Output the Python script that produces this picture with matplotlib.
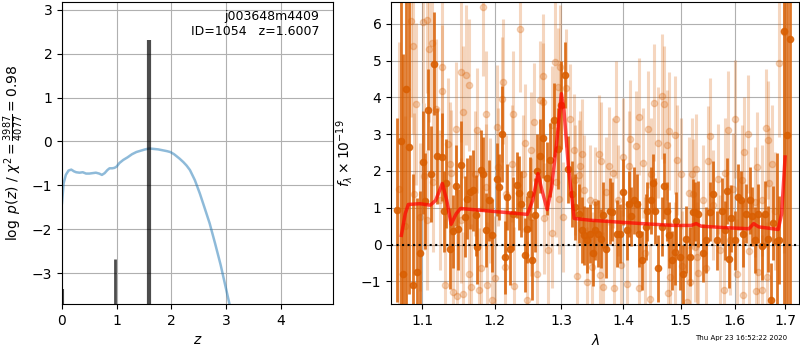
import matplotlib
matplotlib.use('Agg')
import matplotlib.pyplot as plt
from matplotlib.ticker import FixedLocator, FixedFormatter, NullLocator, NullFormatter

# ---- left panel: redshift fit ----
z_chi = [0.0, 0.03, 0.07, 0.12, 0.17, 0.22, 0.26, 0.32, 0.38, 0.44, 0.50,
         0.56, 0.62, 0.68, 0.73, 0.78, 0.83, 0.87, 0.92, 0.96, 1.00, 1.05,
         1.12, 1.20, 1.28, 1.36, 1.44, 1.52, 1.60, 1.68, 1.76, 1.84, 1.92,
         1.98, 2.05, 2.15, 2.22, 2.28, 2.34, 2.43, 2.52, 2.60, 2.70, 2.80,
         2.90, 3.00, 3.10, 3.20]
logp_chi = [-1.40, -0.95, -0.76, -0.66, -0.64, -0.68, -0.70, -0.71, -0.70,
            -0.73, -0.73, -0.72, -0.71, -0.73, -0.76, -0.72, -0.65, -0.61,
            -0.61, -0.60, -0.57, -0.49, -0.42, -0.36, -0.29, -0.24, -0.21,
            -0.18, -0.16, -0.17, -0.18, -0.20, -0.22, -0.24, -0.29, -0.39,
            -0.47, -0.55, -0.65, -0.88, -1.18, -1.48, -1.86, -2.32, -2.80,
            -3.35, -3.90, -4.50]

z_peak = [0.015, 0.975, 1.600]
logp_peak = [-3.35, -2.68, 2.30]
peak_width = [1.5, 2.0, 3.0]

# ---- right panel: spectrum ----
# dark points (wave [micron], flux, err)
wave_a = [1.067, 1.073, 1.075, 1.079, 1.083, 1.088, 1.093, 1.097, 1.101, 1.104,
          1.108, 1.112, 1.116, 1.120, 1.126, 1.129, 1.132, 1.137, 1.141, 1.146,
          1.148, 1.153, 1.158, 1.161, 1.165, 1.169, 1.173, 1.175, 1.180, 1.184,
          1.188, 1.192, 1.196, 1.204, 1.206, 1.211, 1.215, 1.218, 1.222, 1.227,
          1.232, 1.236, 1.239, 1.244, 1.248, 1.252, 1.255, 1.259, 1.263, 1.267,
          1.272, 1.277, 1.283, 1.289, 1.295, 1.300, 1.306, 1.311, 1.316, 1.321,
          1.327, 1.332, 1.336, 1.341, 1.345, 1.350, 1.353, 1.359, 1.364, 1.367,
          1.372, 1.378, 1.382, 1.389, 1.394, 1.400, 1.406, 1.410, 1.414, 1.418,
          1.423, 1.427, 1.432, 1.438, 1.441, 1.447, 1.451, 1.455, 1.460, 1.466,
          1.470, 1.475, 1.479, 1.484, 1.490, 1.492, 1.499, 1.504, 1.510, 1.517,
          1.523, 1.526, 1.532, 1.540, 1.546, 1.5535, 1.560, 1.567, 1.576, 1.582,
          1.586, 1.590, 1.594, 1.601, 1.607, 1.612, 1.617, 1.623, 1.629, 1.633,
          1.640, 1.645, 1.653, 1.659, 1.666, 1.671, 1.676, 1.683, 1.688, 1.697,
          1.704, 1.711]
flux_a = [0.95, 2.81, -0.81, 4.24, 2.65, -1.09, -0.74, -0.24, 2.24, 1.18,
          3.67, 1.91, 4.91, 2.40, 2.38, 0.91, 1.66, -0.11, 0.36, 1.60,
          0.42, 2.15, 0.75, 1.25, 1.43, 1.47, 0.80, -0.06, 2.02, 1.91,
          0.39, 1.20, 0.25, 1.77, 1.57, 3.01, -0.35, 1.29, -0.11, 0.84,
          1.61, 1.40, 1.11, -0.29, 0.41, 1.37, -0.41, 0.80, 2.00, 2.40,
          2.90, 1.80, 2.30, 3.38, 2.60, 3.80, 4.60, 2.04, 1.38, 1.02,
          0.84, 0.39, 0.25, 0.12, 0.30, -0.24, 0.39, 0.30, 0.16, 0.81,
          -0.11, 0.91, 0.89, 0.30, 0.30, 1.43, 0.39, 1.11, 0.77, 1.20,
          1.11, 0.28, -0.43, 0.48, 0.91, 1.20, 1.67, 0.91, -0.65, 0.48,
          1.60, 0.91, 0.25, -0.43, -0.20, 0.64, -0.33, -0.81, 0.14, -0.33,
          0.88, 0.89, 0.84, -0.23, 0.12, 0.89, 1.37, 0.12, 0.91, 0.39,
          1.45, -0.38, 0.71, 0.12, 1.29, 1.20, 0.30, 0.84, 1.20, 0.77,
          0.12, 0.84, -0.05, 0.84, 0.16, -1.51, 0.59, 0.10, 0.12, 5.80,
          2.97, 5.59]
err_a = [2.5, 5.0, 6.0, 6.0, 4.0, 3.0, 2.0, 1.7, 1.4, 1.3,
         1.1, 1.3, 1.4, 1.3, 1.2, 1.1, 1.2, 1.1, 1.0, 1.1,
         1.1, 1.2, 1.1, 1.1, 1.0, 1.1, 1.1, 1.0, 1.1, 1.0,
         1.0, 1.1, 1.0, 1.0, 0.9, 1.3, 1.0, 0.9, 1.0, 1.0,
         0.9, 1.0, 0.9, 1.0, 0.9, 1.0, 1.1, 1.0, 1.0, 1.0,
         1.1, 1.0, 1.0, 1.0, 1.1, 1.2, 0.9, 0.9, 0.9, 0.9,
         0.8, 0.9, 0.8, 0.9, 0.8, 0.9, 0.8, 0.9, 0.8, 0.9,
         0.8, 0.9, 0.8, 0.9, 0.8, 0.9, 0.8, 0.9, 0.8, 0.9,
         0.8, 0.9, 0.8, 0.9, 0.8, 0.9, 0.8, 0.9, 0.9, 0.8,
         0.9, 0.8, 0.9, 0.8, 0.9, 0.8, 0.9, 0.8, 0.9, 0.8,
         0.9, 0.8, 0.9, 0.8, 0.9, 0.8, 0.9, 0.8, 0.9, 0.8,
         0.9, 0.8, 0.9, 0.8, 0.9, 0.8, 0.9, 0.8, 0.9, 0.8,
         0.9, 0.8, 0.9, 0.9, 0.9, 1.0, 1.0, 2.4, 1.2, 8.0,
         8.0, 8.0]

# light points
wave_b = [1.070, 1.078, 1.085, 1.088, 1.090, 1.092, 1.097, 1.101, 1.102, 1.106,
          1.107, 1.109, 1.113, 1.115, 1.119, 1.124, 1.126, 1.127, 1.130, 1.135,
          1.137, 1.139, 1.141, 1.146, 1.147, 1.152, 1.153, 1.155, 1.156, 1.159,
          1.163, 1.164, 1.166, 1.172, 1.175, 1.178, 1.180, 1.184, 1.187, 1.188,
          1.189, 1.193, 1.196, 1.200, 1.203, 1.205, 1.210, 1.212, 1.215, 1.217,
          1.225, 1.227, 1.228, 1.237, 1.242, 1.244, 1.247, 1.253, 1.254, 1.258,
          1.262, 1.267, 1.271, 1.272, 1.273, 1.280, 1.285, 1.286, 1.290, 1.292,
          1.295, 1.297, 1.298, 1.303, 1.307, 1.313, 1.320, 1.321, 1.324, 1.328,
          1.329, 1.332, 1.336, 1.340, 1.345, 1.348, 1.353, 1.360, 1.362, 1.364,
          1.367, 1.372, 1.377, 1.383, 1.385, 1.388, 1.392, 1.397, 1.400, 1.406,
          1.410, 1.411, 1.421, 1.426, 1.427, 1.434, 1.437, 1.443, 1.446, 1.447,
          1.453, 1.460, 1.466, 1.470, 1.475, 1.478, 1.479, 1.481, 1.489, 1.490,
          1.494, 1.500, 1.503, 1.512, 1.515, 1.517, 1.520, 1.523, 1.525, 1.528,
          1.529, 1.532, 1.541, 1.546, 1.550, 1.5535, 1.560, 1.569, 1.572, 1.579,
          1.582, 1.588, 1.591, 1.598, 1.601, 1.604, 1.614, 1.616, 1.619, 1.627,
          1.628, 1.640, 1.641, 1.643, 1.646, 1.653, 1.654, 1.662, 1.663, 1.666,
          1.668, 1.673, 1.679, 1.688, 1.698]
flux_b = [1.50, 0.50, 6.07, 5.41, 1.38, 3.83, 0.75, 6.05, 1.86, 0.66,
          6.11, 5.32, 5.48, 1.70, 3.69, 1.20, 4.82, 4.17, -1.10, 2.74,
          2.18, 1.95, -1.29, 3.15, -1.40, 4.69, 0.66, -1.35, 3.60, 4.60,
          -0.81, 4.33, -1.15, 1.93, 3.10, -1.24, -0.65, 6.47, 3.56, 1.57,
          -1.10, 1.20, -1.51, -0.92, 3.19, 2.11, 3.95, 4.42, -0.61, 1.38,
          2.20, 3.56, -1.13, 5.86, 1.93, 2.76, -1.51, 2.56, 0.75, 3.33,
          -0.81, 3.94, 4.57, 3.87, 0.71, -0.15, 3.24, 0.32, 4.96, 1.70,
          4.28, 1.23, 4.82, 0.75, 4.26, 3.42, 2.58, 1.75, -0.86, 1.88,
          2.13, 2.45, 1.49, -1.01, 1.20, -0.61, 1.16, 2.47, -0.83, 2.28,
          -1.15, 1.43, 2.13, 1.95, -1.17, 3.40, 1.20, -0.56, 2.38, -1.06,
          2.13, 2.88, 2.67, 3.48, -1.19, 2.22, -0.22, 3.13, -1.48, 1.93,
          3.86, 2.77, 4.03, 3.81, 2.70, -1.33, 3.08, -0.88, 2.97, -0.33,
          2.29, 1.93, -0.58, -1.56, 1.41, -1.01, 1.93, 1.38, -0.06, 2.04,
          -0.33, -0.77, 1.20, -0.65, 2.27, 2.94, 1.07, 1.79, -0.14, -1.24,
          1.95, 3.12, 0.12, 1.52, 3.42, -0.81, 1.75, -1.38, 2.51, 3.01,
          -0.17, 1.16, -1.26, 2.11, -0.74, 1.20, -1.24, 3.17, -0.88, 2.85,
          1.66, 2.18, 0.91, 4.93, 5.77]
err_b = [4.0, 3.0, 2.6, 2.4, 2.2, 2.2, 2.0, 2.2, 2.0, 1.9,
         2.0, 2.0, 1.9, 1.9, 1.9, 1.9, 1.9, 1.8, 1.8, 1.8,
         1.7, 1.7, 1.7, 1.8, 1.7, 1.9, 1.7, 1.7, 1.8, 1.9,
         1.7, 1.8, 1.7, 1.7, 1.7, 1.7, 1.7, 1.9, 1.7, 1.7,
         1.7, 1.7, 1.7, 1.7, 1.7, 1.6, 1.7, 1.7, 1.6, 1.6,
         1.6, 1.7, 1.6, 1.7, 1.6, 1.6, 1.6, 1.6, 1.6, 1.6,
         1.6, 1.6, 1.7, 1.6, 1.5, 1.5, 1.6, 1.5, 1.7, 1.5,
         1.6, 1.5, 1.7, 1.5, 1.6, 1.5, 1.5, 1.5, 1.5, 1.5,
         1.5, 1.5, 1.5, 1.5, 1.5, 1.5, 1.5, 1.6, 1.5, 1.6,
         1.5, 1.5, 1.6, 1.5, 1.5, 1.6, 1.5, 1.5, 1.6, 1.5,
         1.5, 1.6, 1.5, 1.6, 1.5, 1.5, 1.5, 1.6, 1.5, 1.5,
         1.6, 1.5, 1.7, 1.6, 1.5, 1.5, 1.6, 1.5, 1.6, 1.5,
         1.5, 1.5, 1.5, 1.5, 1.5, 1.5, 1.5, 1.5, 1.5, 1.5,
         1.5, 1.5, 1.5, 1.5, 1.5, 1.6, 1.5, 1.5, 1.5, 1.5,
         1.5, 1.6, 1.5, 1.5, 1.6, 1.5, 1.5, 1.5, 1.5, 1.6,
         1.5, 1.5, 1.5, 1.5, 1.5, 1.5, 1.5, 1.6, 1.5, 1.6,
         1.5, 1.6, 1.6, 2.0, 6.0]

# best-fit model
wave_m = [1.073, 1.078, 1.082, 1.097, 1.111, 1.118, 1.127, 1.133, 1.139, 1.146,
          1.152, 1.248, 1.256, 1.264, 1.270, 1.278, 1.285, 1.293, 1.300, 1.304,
          1.311, 1.320, 1.346, 1.431, 1.488, 1.519, 1.528, 1.537, 1.580, 1.628,
          1.637, 1.647, 1.686, 1.693, 1.700]
flux_m = [0.25, 0.84, 1.09, 1.11, 1.07, 1.20, 1.66, 1.20, 0.55, 0.84,
          0.98, 0.82, 1.20, 1.93, 1.48, 0.95, 1.57, 2.83, 4.10, 3.65,
          2.11, 0.71, 0.66, 0.57, 0.52, 0.52, 0.57, 0.50, 0.46, 0.43,
          0.57, 0.48, 0.41, 0.84, 2.38]

wave_ticks = [1.1, 1.2, 1.3, 1.4, 1.5, 1.6, 1.7]
dark = '#d95f02'

fig = plt.figure(figsize=(8, 3.5), dpi=100)

# left
ax = fig.add_axes([0.0775, 0.131, 0.339, 0.863])
ax.plot(z_chi, logp_chi, color='#1f77b4', alpha=0.5, lw=1.8)
ax.vlines(z_peak, -3.7, logp_peak, colors='k', alpha=0.7, linewidths=peak_width)
ax.set_xlim(0, 4.96)
ax.set_ylim(-3.7, 3.17)
ax.set_xticks([0, 1, 2, 3, 4])
ax.grid(True)
ax.set_axisbelow(True)
ax.set_xlabel('$z$')
ax.set_ylabel(r'$\log\ p(z)$ / $\chi^2=\frac{3987}{4077}=0.98$')
ax.text(0.95, 0.975, 'j003648m4409\nID=1054   z=1.6007', transform=ax.transAxes,
        ha='right', va='top', fontsize=9)

# right
ax2 = fig.add_axes([0.489, 0.131, 0.510, 0.863])
ax2.errorbar(wave_b, flux_b, yerr=err_b, fmt='o', color=dark, alpha=0.25,
             markersize=4.5, elinewidth=2.2, capsize=0, zorder=1)
ax2.errorbar(wave_a, flux_a, yerr=err_a, fmt='o', color=dark, alpha=0.85,
             markersize=4.5, elinewidth=2.0, capsize=0, zorder=2)
ax2.plot(wave_m, flux_m, color='red', alpha=0.7, lw=2.5, zorder=3)
ax2.axhline(0, color='k', ls=':', lw=1.5, zorder=4)
ax2.set_xscale('log')
ax2.set_xlim(1.06, 1.729)
ax2.set_ylim(-1.62, 6.59)
ax2.xaxis.set_major_locator(FixedLocator(wave_ticks))
ax2.xaxis.set_major_formatter(FixedFormatter(['%.1f' % w for w in wave_ticks]))
ax2.xaxis.set_minor_locator(NullLocator())
ax2.xaxis.set_minor_formatter(NullFormatter())
ax2.grid(True)
ax2.set_axisbelow(True)
ax2.set_xlabel(r'$\lambda$')
ax2.set_ylabel(r'$f_\lambda \times 10^{-19}$')

fig.text(0.984, 0.025, 'Thu Apr 23 16:52:22 2020', ha='right', va='bottom',
         fontsize=5)

plt.savefig('out.png', dpi=100)
